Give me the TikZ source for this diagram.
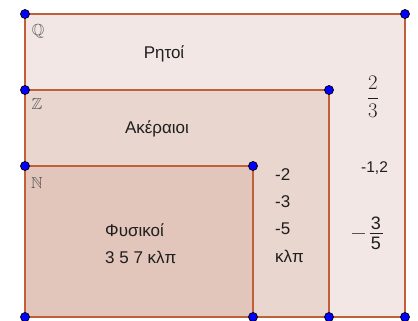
\documentclass[tikz,border=0pt]{standalone}
\usepackage{amsmath,amssymb}
\usepackage{fontspec}
\setmainfont{Liberation Sans}
\definecolor{edge}{RGB}{192,96,56}
\definecolor{fillQ}{RGB}{243,231,229}
\definecolor{fillZ}{RGB}{233,214,206}
\definecolor{fillN}{RGB}{226,197,187}
\definecolor{ptblue}{RGB}{0,0,255}
\definecolor{txt}{RGB}{30,30,30}
\definecolor{setlbl}{RGB}{85,85,85}
\tikzset{
  region/.style={draw=edge, line width=1.4pt},
  pt/.style={circle, fill=ptblue, draw=black, line width=0.7pt, inner sep=0pt, minimum size=9pt},
  lbl/.style={text=txt, font=\fontsize{17}{20}\selectfont, inner sep=0pt},
  setname/.style={text=setlbl, font=\fontsize{16}{18}\selectfont, inner sep=0pt},
}
\begin{document}
\begin{tikzpicture}[x=1pt,y=-1pt]
\useasboundingbox (0,0) rectangle (418,321);
% regions
\fill[fillQ] (25,14) rectangle (405,317);
\fill[fillZ] (25,90) rectangle (329,317);
\fill[fillN] (25,166) rectangle (253,317);
\draw[region] (25,14) rectangle (405,317);
\draw[region] (25,90) -- (329,90) -- (329,317);
\draw[region] (25,166) -- (253,166) -- (253,317);
% points
\foreach \n/\p in {q1/{25,14},q2/{405,14},z1/{25,90},z2/{329,90},n1/{25,166},n2/{253,166},b1/{25,317},b2/{253,317},b3/{329,317},b4/{405,317}}
  \node[pt] (\n) at (\p) {};
% set names
\node[setname] (Q) at (38,31) {$\mathbb{Q}$};
\node[setname] (Z) at (37,104) {$\mathbb{Z}$};
\node[setname] (N) at (37,183) {$\mathbb{N}$};
% labels
\node[lbl, anchor=base] (rhtoi) at (164,59) {Ρητοί};
\node[lbl, anchor=base] (akeraioi) at (157,133) {Ακέραιοι};
\node[lbl, anchor=base west] (fysikoi) at (105,236) {Φυσικοί};
\node[lbl, anchor=base west] (nums) at (105,263) {3 5 7 κλπ};
\node[lbl, anchor=base west] (m2) at (275,180) {-2};
\node[lbl, anchor=base west] (m3) at (275,207) {-3};
\node[lbl, anchor=base west] (m5) at (275,234) {-5};
\node[lbl, anchor=base west] (klp) at (275,262) {κλπ};
\node[lbl, anchor=base west, font=\fontsize{15.5}{18}\selectfont] (m12) at (361,172) {-1,2};
% 2/3 serif fraction
\node[text=txt, inner sep=0pt, font=\fontsize{22}{26}\selectfont] (twothirds) at (373,97) {$\dfrac{2}{3}$};
% -3/5 sans fraction
\node[lbl, anchor=south, font=\fontsize{18}{21}\selectfont] (three) at (376,230) {3};
\node[lbl, anchor=north, font=\fontsize{18}{21}\selectfont] (five) at (376,237) {5};
\draw[txt, line width=0.8pt] (369.5,233) -- (382.5,233);
\draw[setlbl, line width=0.8pt] (352,233) -- (365,233);
\end{tikzpicture}
\end{document}
